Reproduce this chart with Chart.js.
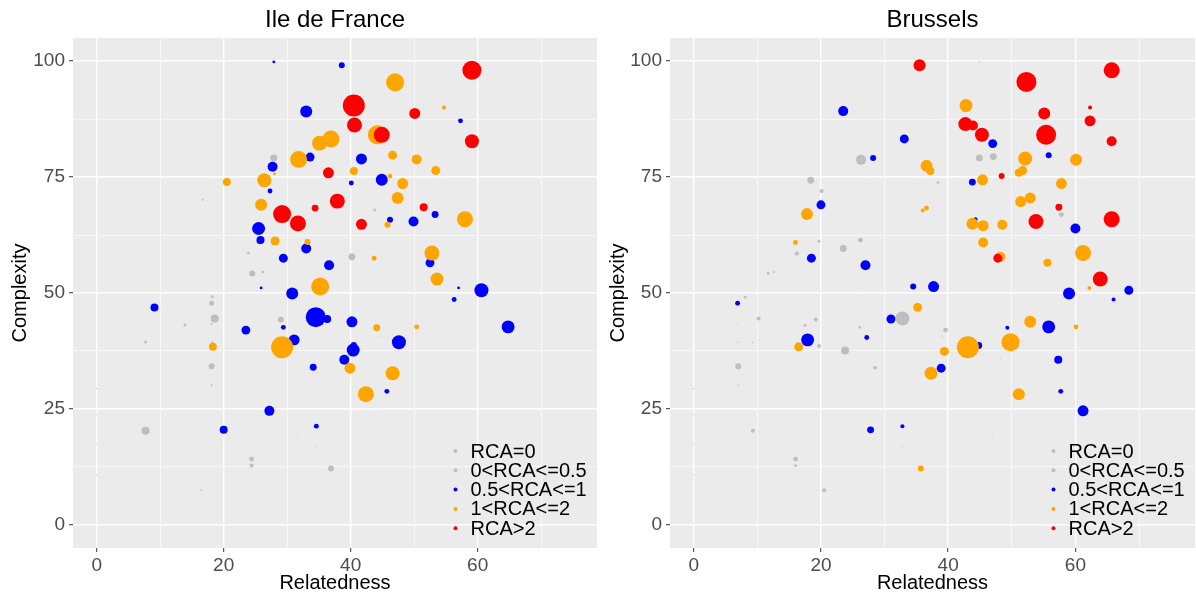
<!DOCTYPE html>
<html>
<head>
<meta charset="utf-8">
<script src="https://cdn.jsdelivr.net/npm/chart.js@4/dist/chart.umd.min.js"></script>
<style>
    body { margin: 0; background: #ffffff; }
    .wrap { display: flex; width: 1196px; height: 599px; }
    .panel { width: 598px; height: 599px; }
</style>
</head>
<body>
<div class="wrap">
    <div class="panel"><canvas id="idfChart" width="598" height="599"></canvas></div>
    <div class="panel"><canvas id="bruChart" width="598" height="599"></canvas></div>
</div>
<script>
// Categories (legend order) and colours
const categories = ['RCA=0', '0<RCA<=0.5', '0.5<RCA<=1', '1<RCA<=2', 'RCA>2'];
const categoryColors = ['#BEBEBE', '#BEBEBE', '#0000FF', '#FFA500', '#FF0000'];

// Axis ticks
const xGrid = [0, 10, 20, 30, 40, 50, 60, 70];
const xTickLabels = [0, 20, 40, 60];
const yGrid = [0, 12.5, 25, 37.5, 50, 62.5, 75, 87.5, 100];
const yTickLabels = [0, 25, 50, 75, 100];

// Points: [relatedness, complexity, weight]
// Ile de France
const idfRca0 = [
    [0, 29.4, 0.6], [0, 23.8, 0.4], [0, 17.5, 0.3], [0, 10.8, 0.3],
    [16.7, 70.1, 1], [16.5, 7.5, 1], [31.7, 19.6, 0.4], [34.6, 16.9, 0.4], [44.8, 40.7, 0.4]
];
const idfRcaLow = [
    [27.9, 79.1, 12], [25.6, 61.1, 9], [23.9, 58.6, 2], [24.5, 54.2, 9], [26.2, 54.5, 2],
    [18.2, 49.2, 2], [18.1, 47.8, 6], [18.6, 44.5, 16], [13.9, 43.1, 2], [18.1, 43.3, 1],
    [7.7, 39.4, 2], [18.2, 39.4, 1], [29.0, 44.3, 9], [18.1, 34.2, 9], [18.1, 30.1, 1],
    [7.7, 20.3, 16], [24.4, 14.2, 6], [24.4, 12.8, 4], [40.2, 57.8, 12], [36.9, 12.2, 9],
    [43.8, 82.6, 4], [43.8, 67.9, 2]
];
const idfRcaMid = [
    [27.9, 99.8, 2], [27.7, 77.2, 25], [27.3, 72.0, 6], [31.5, 64.8, 16], [25.5, 63.9, 42],
    [25.8, 61.4, 16], [29.4, 57.5, 20], [25.9, 51.1, 2], [30.8, 49.9, 36], [38.6, 99.1, 9],
    [33.0, 89.1, 36], [57.3, 87.1, 6], [33.6, 79.3, 20], [41.7, 78.9, 30], [40.1, 73.7, 6],
    [44.9, 74.4, 36], [53.3, 66.9, 12], [46.2, 65.8, 9], [49.9, 65.4, 25], [33.0, 59.6, 25],
    [36.6, 56.0, 25], [52.5, 56.5, 20], [57.0, 51.1, 2], [60.6, 50.6, 49], [56.3, 48.6, 6],
    [9.1, 46.9, 16], [23.5, 42.0, 20], [29.4, 42.6, 6], [31.1, 39.9, 30], [20.0, 20.5, 16],
    [27.2, 24.6, 25], [34.5, 44.8, 100], [36.3, 44.4, 16], [40.2, 43.8, 30], [64.8, 42.7, 42],
    [47.6, 39.4, 49], [40.4, 37.7, 42], [40.5, 38.8, 9], [39.0, 35.6, 25], [34.1, 34.0, 12],
    [45.7, 28.8, 6], [34.6, 21.3, 6]
];
const idfRcaHigh = [
    [20.5, 73.9, 16], [26.4, 74.3, 49], [28.0, 75.7, 2], [25.9, 69.0, 36], [28.1, 61.2, 20],
    [47.0, 95.4, 81], [54.7, 90.0, 4], [44.2, 84.1, 90], [36.9, 83.2, 72], [35.1, 82.3, 56],
    [31.8, 78.8, 72], [46.6, 79.7, 20], [50.4, 78.8, 25], [53.4, 76.4, 20], [40.5, 76.3, 16],
    [46.2, 75.2, 6], [48.2, 73.6, 30], [47.4, 70.5, 36], [58.0, 65.9, 64], [45.8, 64.7, 9],
    [33.2, 61.0, 9], [43.7, 57.5, 6], [52.8, 58.6, 56], [53.6, 53.0, 42], [35.2, 51.4, 81],
    [18.3, 38.4, 16], [29.2, 38.3, 121], [44.1, 42.5, 12], [50.4, 42.7, 6], [39.9, 33.8, 30],
    [46.6, 32.7, 49], [42.4, 28.2, 64]
];
const idfRcaTop = [
    [59.1, 98.0, 90], [40.5, 90.4, 121], [50.1, 88.7, 30], [40.6, 86.2, 56], [59.1, 82.7, 49],
    [44.9, 84.1, 64], [36.5, 75.9, 30], [37.9, 69.8, 56], [34.4, 68.3, 12], [51.5, 68.5, 16],
    [29.2, 67.0, 81], [31.7, 65.0, 64], [41.7, 64.8, 30]
];

// Brussels
const bruRca0 = [
    [0, 29.4, 0.5], [0, 23.8, 0.4], [0, 17.5, 0.3], [0, 10.8, 0.3], [6.9, 43.3, 0.5],
    [6.9, 39.4, 0.5], [9.3, 39.4, 0.5], [7.0, 30.1, 0.5], [26.0, 51.1, 0.4], [44.9, 99.9, 0.5],
    [32.8, 16.9, 0.4], [46.9, 19.5, 0.4], [48.2, 36.0, 0.4], [39.0, 40.7, 0.4]
];
const bruRcaLow = [
    [26.3, 78.7, 25], [18.4, 74.3, 12], [20.1, 72.0, 4], [19.7, 61.1, 2], [26.2, 61.4, 6],
    [23.5, 59.6, 12], [16.2, 58.5, 4], [11.7, 54.2, 2], [12.6, 54.5, 1], [8.1, 49.1, 2],
    [10.2, 44.5, 4], [17.5, 43.0, 2], [19.2, 44.3, 4], [19.7, 38.6, 4], [23.8, 37.6, 16],
    [26.1, 42.6, 2], [28.5, 33.9, 3], [32.8, 44.5, 49], [7.0, 34.2, 9], [9.3, 20.3, 4],
    [16.0, 14.2, 6], [16.0, 12.8, 2], [20.5, 7.5, 4], [44.9, 79.1, 12], [47.1, 79.4, 12],
    [38.4, 73.8, 2], [57.8, 66.9, 6], [39.6, 42.0, 6]
];
const bruRcaMid = [
    [23.5, 89.2, 25], [28.2, 79.1, 9], [20.0, 69.0, 20], [18.5, 57.5, 20], [27.0, 56.0, 25],
    [33.1, 83.2, 20], [47.0, 82.2, 20], [55.8, 79.7, 9], [43.8, 73.9, 12], [44.3, 65.9, 4],
    [45.3, 64.8, 9], [60.0, 63.9, 25], [68.4, 50.6, 20], [66.0, 48.6, 4], [34.5, 51.4, 9],
    [37.7, 51.4, 30], [59.0, 49.9, 36], [6.9, 47.8, 6], [17.9, 39.9, 42], [27.2, 40.4, 6],
    [31.0, 44.4, 20], [27.8, 20.5, 12], [55.8, 42.7, 42], [49.3, 42.5, 4], [44.8, 38.7, 12],
    [38.9, 33.8, 20], [57.3, 35.6, 16], [57.7, 28.8, 6], [61.2, 24.6, 30], [32.8, 21.3, 4]
];
const bruRcaHigh = [
    [17.8, 67.0, 36], [16.0, 60.9, 6], [42.8, 90.4, 42], [52.1, 79.0, 49], [60.1, 78.7, 36],
    [36.6, 77.4, 36], [37.2, 76.3, 16], [45.4, 74.4, 30], [51.7, 76.4, 20], [51.1, 75.9, 16],
    [57.8, 73.6, 30], [52.9, 70.5, 30], [51.4, 69.7, 30], [36.6, 68.3, 6], [36.0, 67.8, 4],
    [43.8, 64.9, 36], [45.5, 64.5, 30], [48.5, 64.7, 25], [45.5, 60.9, 25], [48.2, 57.8, 25],
    [55.6, 56.5, 16], [61.2, 58.6, 64], [62.2, 51.1, 4], [35.2, 46.9, 20], [16.5, 38.4, 20],
    [52.9, 43.8, 36], [60.1, 42.7, 6], [43.1, 38.3, 121], [49.8, 39.4, 81], [39.4, 37.4, 20],
    [37.3, 32.7, 42], [51.1, 28.2, 36], [35.7, 12.2, 9]
];
const bruRcaTop = [
    [35.5, 99.1, 36], [52.3, 95.5, 100], [65.7, 98.0, 64], [55.1, 88.7, 36], [62.3, 90.0, 4],
    [62.3, 87.1, 30], [42.7, 86.4, 49], [43.9, 86.1, 25], [45.3, 84.1, 49], [55.4, 84.1, 100],
    [65.7, 82.7, 25], [48.4, 75.2, 9], [57.4, 68.5, 12], [65.7, 65.9, 64], [53.8, 65.4, 56],
    [47.8, 57.5, 20], [63.9, 53.0, 56]
];

const FONT = "'Liberation Sans', Arial, sans-serif";

// Title + in-panel legend (ggplot style)
const panelDecor = {
    id: 'panelDecor',
    afterDraw(chart, args, opts) {
        const { ctx, chartArea } = chart;
        ctx.save();
        ctx.fillStyle = '#000000';
        ctx.font = `24px ${FONT}`;
        ctx.textAlign = 'center';
        ctx.textBaseline = 'middle';
        ctx.fillText(opts.title, (chartArea.left + chartArea.right) / 2, 20);

        ctx.font = `20px ${FONT}`;
        ctx.textAlign = 'left';
        categories.forEach((label, i) => {
            const y = chartArea.bottom - 97 + i * 19.3;
            ctx.fillStyle = categoryColors[i];
            ctx.beginPath();
            ctx.arc(chartArea.right - 141.5, y, 2, 0, Math.PI * 2);
            ctx.fill();
            ctx.fillStyle = '#000000';
            ctx.fillText(label, chartArea.right - 126.5, y + 1);
        });
        ctx.restore();
    }
};

// Panel background
const panelBg = {
    id: 'panelBg',
    beforeDraw(chart) {
        const { ctx, chartArea: a } = chart;
        ctx.save();
        ctx.fillStyle = '#EBEBEB';
        ctx.fillRect(a.left, a.top, a.right - a.left, a.bottom - a.top);
        ctx.restore();
    }
};

function makeChart(canvasId, title, groups, yAxisWidth) {
    const orders = [5, 4, 3, 2, 1];
    const datasets = groups.map((pts, i) => ({
        label: categories[i],
        data: pts.map(p => ({ x: p[0], y: p[1], r: Math.sqrt(p[2]) })),
        backgroundColor: categoryColors[i],
        borderWidth: 0,
        hoverRadius: 0,
        order: orders[i]
    }));

    return new Chart(document.getElementById(canvasId), {
        type: 'bubble',
        data: { datasets },
        plugins: [panelBg, panelDecor],
        options: {
            responsive: false,
            animation: false,
            layout: { autoPadding: false, padding: { top: 38, right: 1, left: 0, bottom: 0 } },
            plugins: {
                legend: { display: false },
                tooltip: { enabled: false },
                panelDecor: { title }
            },
            scales: {
                x: {
                    type: 'linear',
                    min: -3.73,
                    max: 78.8,
                    afterBuildTicks: s => { s.ticks = xGrid.map(v => ({ value: v })); },
                    afterFit: s => { s.height = 51; },
                    border: { display: false },
                    grid: {
                        color: '#FFFFFF',
                        lineWidth: c => xTickLabels.includes(c.tick.value) ? 1.4 : 0.6,
                        tickColor: c => xTickLabels.includes(c.tick.value) ? '#333333' : 'rgba(0,0,0,0)',
                        tickLength: 4,
                        tickWidth: 1
                    },
                    ticks: {
                        autoSkip: false,
                        maxRotation: 0,
                        padding: 2,
                        color: '#4D4D4D',
                        font: { family: FONT, size: 19 },
                        callback: v => xTickLabels.includes(v) ? String(v) : ''
                    },
                    title: {
                        display: true,
                        text: 'Relatedness',
                        color: '#000000',
                        font: { family: FONT, size: 20 },
                        padding: { top: 0, bottom: 4 }
                    }
                },
                y: {
                    type: 'linear',
                    min: -4.96,
                    max: 104.96,
                    afterBuildTicks: s => { s.ticks = yGrid.map(v => ({ value: v })); },
                    afterFit: s => { s.width = yAxisWidth; },
                    border: { display: false },
                    grid: {
                        color: '#FFFFFF',
                        lineWidth: c => yTickLabels.includes(c.tick.value) ? 1.4 : 0.6,
                        tickColor: c => yTickLabels.includes(c.tick.value) ? '#333333' : 'rgba(0,0,0,0)',
                        tickLength: 4,
                        tickWidth: 1
                    },
                    ticks: {
                        autoSkip: false,
                        padding: 4,
                        color: '#4D4D4D',
                        font: { family: FONT, size: 19 },
                        callback: v => yTickLabels.includes(v) ? String(v) : ''
                    },
                    title: {
                        display: true,
                        text: 'Complexity',
                        color: '#000000',
                        font: { family: FONT, size: 20 },
                        padding: { top: 8, bottom: 0 }
                    }
                }
            }
        }
    });
}

makeChart('idfChart', 'Ile de France', [idfRca0, idfRcaLow, idfRcaMid, idfRcaHigh, idfRcaTop], 73);
makeChart('bruChart', 'Brussels', [bruRca0, bruRcaLow, bruRcaMid, bruRcaHigh, bruRcaTop], 72);
</script>
</body>
</html>
